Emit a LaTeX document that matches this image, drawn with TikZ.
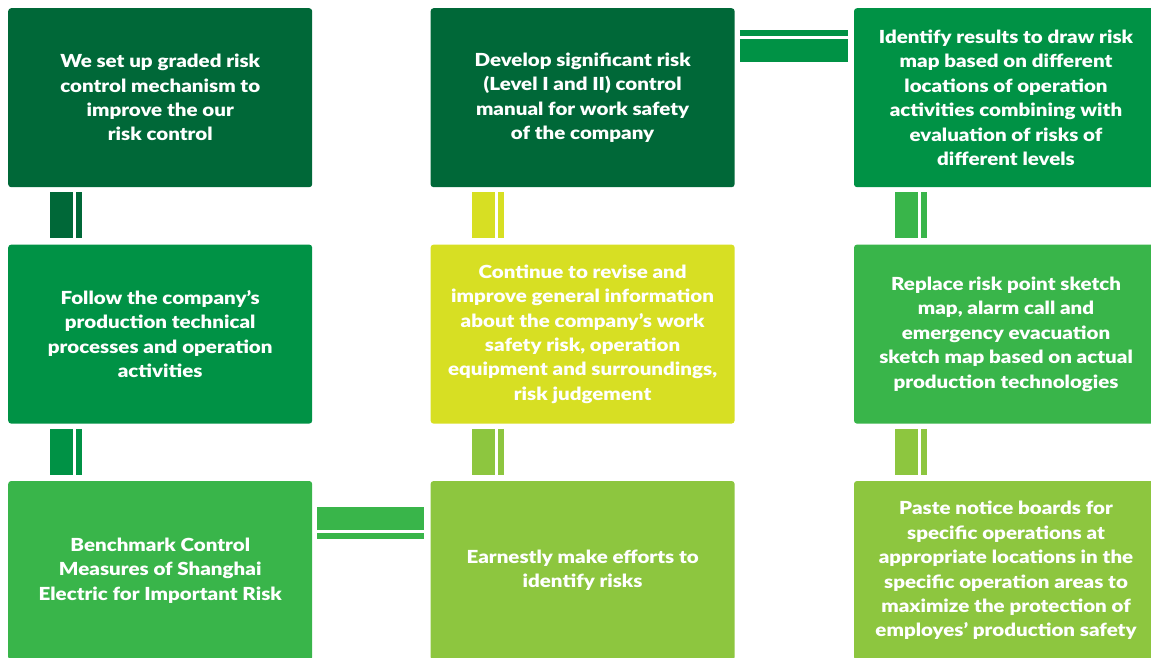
\documentclass[tikz,border=0pt]{standalone}
\usepackage{fontspec}
\setsansfont{Lato}[BoldFont=Lato Black, BoldFeatures={FakeStretch=1.14}]
\usetikzlibrary{positioning}

\definecolor{darkgreen}{HTML}{006838}
\definecolor{midgreen}{HTML}{009245}
\definecolor{leafgreen}{HTML}{39B54A}
\definecolor{limegreen}{HTML}{8DC63F}
\definecolor{yellowgreen}{HTML}{D7DF23}

\begin{document}
\begin{tikzpicture}[node distance=57pt and 118pt]
\tikzstyle{box} = [rectangle, rounded corners=3pt, minimum width=304pt, minimum height=179pt, inner sep=0pt, align=center, text=white, font=\sffamily\bfseries\fontsize{18}{24.4}\selectfont]
\tikzstyle{bar} = [line width=23pt, shorten <=5pt, shorten >=6pt]
\tikzstyle{thinbar} = [line width=6pt, shorten <=5pt, shorten >=6pt]

\useasboundingbox (0,0) rectangle (1151pt,-657pt);
\clip (0,0) rectangle (1151pt,-657pt);

% First row
\node [box, fill=darkgreen, anchor=north west] (mechanism) at (8pt,-8pt) {We set up graded risk\\control mechanism to\\improve the our\\risk control};
\node [box, fill=darkgreen, right=of mechanism] (manual) {Develop significant risk\\(Level I and II) control\\manual for work safety\\of the company};
\node [box, fill=midgreen, right=119pt of manual] (riskMap) {Identify results to draw risk\\map based on different\\locations of operation\\activities combining with\\evaluation of risks of\\different levels};

% Second row
\node [box, fill=midgreen, below=of mechanism] (processes) {Follow the company’s\\production technical\\processes and operation\\activities};
\node [box, fill=yellowgreen, below=of manual] (generalInfo) {Continue to revise and\\improve general information\\about the company’s work\\safety risk, operation\\equipment and surroundings,\\risk judgement};
\node [box, fill=leafgreen, below=of riskMap] (sketchMap) {Replace risk point sketch\\map, alarm call and\\emergency evacuation\\sketch map based on actual\\production technologies};

% Third row
\node [box, fill=leafgreen, below=of processes] (benchmark) {Benchmark Control\\Measures of Shanghai\\Electric for Important Risk};
\node [box, fill=limegreen, below=of generalInfo] (identify) {Earnestly make efforts to\\identify risks};
\node [box, fill=limegreen, below=of sketchMap] (noticeBoards) {Paste notice boards for\\specific operations at\\appropriate locations in the\\specific operation areas to\\maximize the protection of\\employes’ production safety};

% Vertical double bars between rows
\draw [bar, draw=darkgreen] ([xshift=53.5pt]mechanism.south west) -- ([xshift=53.5pt]processes.north west);
\draw [thinbar, draw=darkgreen] ([xshift=71pt]mechanism.south west) -- ([xshift=71pt]processes.north west);
\draw [bar, draw=yellowgreen] ([xshift=53.5pt]manual.south west) -- ([xshift=53.5pt]generalInfo.north west);
\draw [thinbar, draw=yellowgreen] ([xshift=71pt]manual.south west) -- ([xshift=71pt]generalInfo.north west);
\draw [bar, draw=leafgreen] ([xshift=53pt]riskMap.south west) -- ([xshift=53pt]sketchMap.north west);
\draw [thinbar, draw=leafgreen] ([xshift=70pt]riskMap.south west) -- ([xshift=70pt]sketchMap.north west);

\draw [bar, draw=midgreen] ([xshift=53.5pt]processes.south west) -- ([xshift=53.5pt]benchmark.north west);
\draw [thinbar, draw=midgreen] ([xshift=71pt]processes.south west) -- ([xshift=71pt]benchmark.north west);
\draw [bar, draw=limegreen] ([xshift=53.5pt]generalInfo.south west) -- ([xshift=53.5pt]identify.north west);
\draw [thinbar, draw=limegreen] ([xshift=71pt]generalInfo.south west) -- ([xshift=71pt]identify.north west);
\draw [bar, draw=limegreen] ([xshift=53pt]sketchMap.south west) -- ([xshift=53pt]noticeBoards.north west);
\draw [thinbar, draw=limegreen] ([xshift=70pt]sketchMap.south west) -- ([xshift=70pt]noticeBoards.north west);

% Horizontal double bars
\draw [thinbar, draw=midgreen] ([yshift=-25pt]manual.north east) -- ([yshift=-25pt]riskMap.north west);
\draw [bar, draw=midgreen] ([yshift=-42.5pt]manual.north east) -- ([yshift=-42.5pt]riskMap.north west);
\draw [bar, draw=leafgreen] ([yshift=-37.5pt]benchmark.north east) -- ([yshift=-37.5pt]identify.north west);
\draw [thinbar, draw=leafgreen] ([yshift=-55pt]benchmark.north east) -- ([yshift=-55pt]identify.north west);

\end{tikzpicture}
\end{document}
